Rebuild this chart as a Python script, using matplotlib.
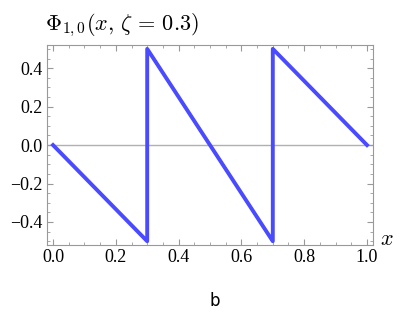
import matplotlib
matplotlib.use("Agg")
import matplotlib.pyplot as plt
from matplotlib.ticker import MultipleLocator

plt.rcParams['mathtext.fontset'] = 'cm'
plt.rcParams['font.family'] = 'serif'
plt.rcParams['font.serif'] = ['Liberation Serif', 'DejaVu Serif']

# sawtooth Phi_{1,0}(x, zeta=0.3)
x_vals = [0.0, 0.3, 0.3, 0.7, 0.7, 1.0]
y_vals = [0.0, -0.5, 0.5, -0.5, 0.5, 0.0]
x_ticks = [0.0, 0.2, 0.4, 0.6, 0.8, 1.0]
y_ticks = [-0.4, -0.2, 0.0, 0.2, 0.4]

fig = plt.figure(figsize=(4.2, 3.15), dpi=100)
ax = fig.add_axes([0.112, 0.222, 0.776, 0.635])

ax.axhline(0, color='#b0b0b0', lw=1.0, zorder=1)
ax.plot(x_vals, y_vals, color='#4a4aff', lw=2.8, zorder=2)

ax.set_xlim(-0.019, 1.019)
ax.set_ylim(-0.52, 0.52)
ax.xaxis.set_minor_locator(MultipleLocator(0.05))
ax.yaxis.set_minor_locator(MultipleLocator(0.05))
ax.tick_params(which='both', direction='in', top=True, right=True, color='#999999', pad=3)
ax.tick_params(which='major', length=4)
ax.tick_params(which='minor', length=2)
ax.set_xticks(x_ticks)
ax.set_yticks(y_ticks)
lab_font = {'family': 'Liberation Serif', 'size': 13}
ax.set_xticklabels(["%.1f" % v for v in x_ticks], fontdict=lab_font)
ax.set_yticklabels([("\u2212%.1f" % -v) if v < 0 else "%.1f" % v for v in y_ticks], fontdict=lab_font)
for s in ax.spines.values():
    s.set_color('#999999')

fig.text(0.108, 0.875, r'$\Phi_{1,0}(x,\,\zeta\,=\,0.3)$', fontsize=16, ha='left', va='bottom')
fig.text(0.905, 0.235, r'$x$', fontsize=16, ha='left', va='center')
fig.text(0.512, 0.045, 'b', fontsize=12, family='DejaVu Sans', ha='center', va='center')

fig.savefig('out.png', dpi=100)
